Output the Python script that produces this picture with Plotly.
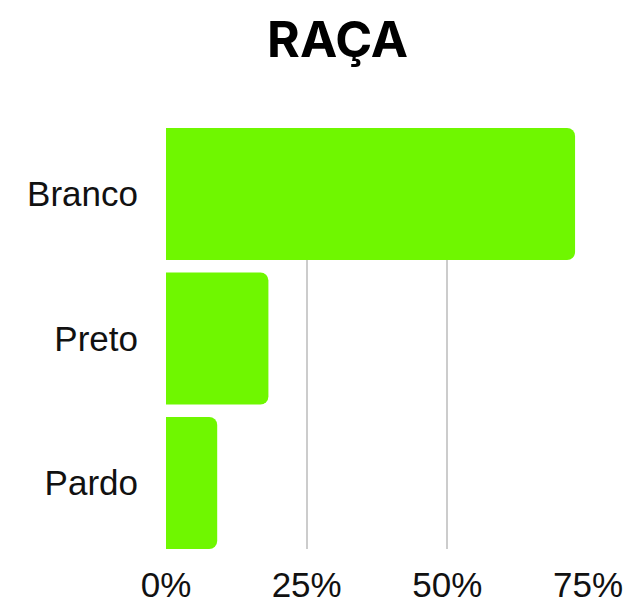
import plotly.graph_objects as go

categories = ["Branco", "Preto", "Pardo"]
values = [72.7, 18.2, 9.1]
tick_vals = [0, 25, 50, 75]
tick_text = ["0%", "25%", "50%", "75%"]

gap = 0.0865

fig = go.Figure(go.Bar(
    x=values, y=categories, orientation="h",
    marker=dict(color="#6ff700", line=dict(width=0)),
    hoverinfo="skip",
))

fig.update_layout(
    width=631, height=605,
    margin=dict(l=166, r=43, t=128, b=56, autoexpand=False),
    paper_bgcolor="white", plot_bgcolor="white",
    bargap=gap,
    barcornerradius=8,
    showlegend=False,
    title=dict(
        text="<b>RAÇA</b>", x=0.535, xanchor="center", y=0.935, yanchor="middle",
        font=dict(family="Inter", size=50, color="black", weight=900),
    ),
    font=dict(family="Liberation Sans", size=35, color="#111"),
)
fig.update_xaxes(
    range=[0, 75], tickvals=tick_vals, ticktext=tick_text,
    showgrid=True, gridcolor="#cccccc", gridwidth=1.5,
    zeroline=False, showline=False, ticks="", ticklabelstandoff=12,
    fixedrange=True, automargin=False,
)
fig.update_yaxes(
    categoryorder="array", categoryarray=categories,
    range=[len(categories) - 0.5 - gap / 2, -0.5 + gap / 2],
    showgrid=False, zeroline=False, showline=False, ticks="",
    ticklabelstandoff=27, fixedrange=True, automargin=False,
)

fig.write_html("out.html", config={"displayModeBar": False})
